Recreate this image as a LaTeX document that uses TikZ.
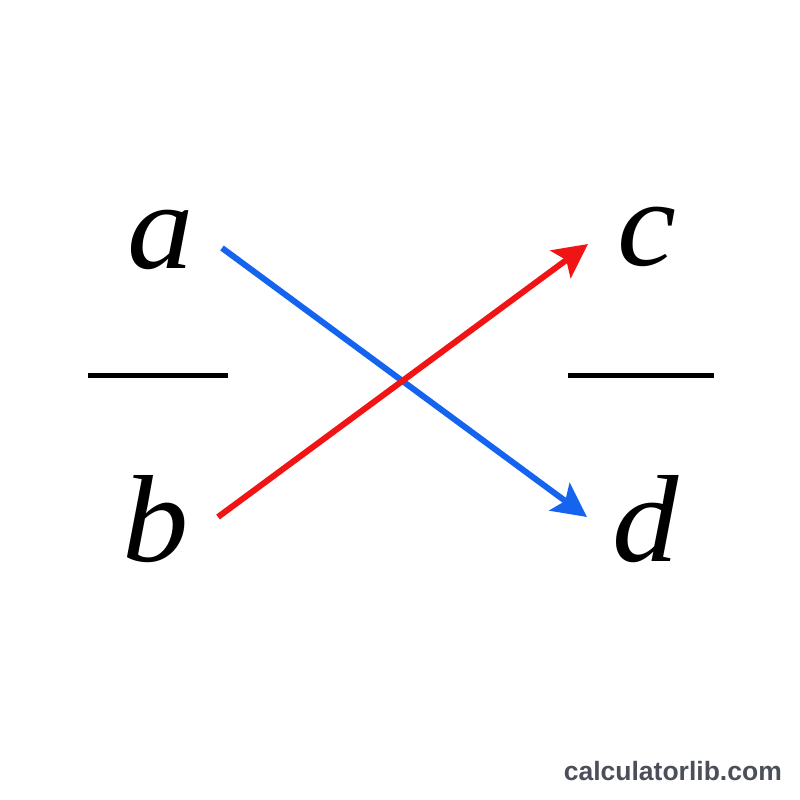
\documentclass[tikz,border=0pt]{standalone}
\usepackage{fontspec}
\setmainfont{Liberation Serif}
\newfontfamily\wmfont{Liberation Sans}
\usetikzlibrary{arrows.meta}
\definecolor{myblue}{RGB}{20,100,240}
\definecolor{myred}{RGB}{240,20,20}
\definecolor{wmgray}{RGB}{74,79,90}
\tikzset{
  letter/.style={anchor=base, inner sep=0pt, xscale=1.07, transform shape, font=\fontsize{124}{126}\selectfont\itshape},
  bar/.style={line width=5pt, black},
  conn/.style={line width=6pt, -{Stealth[length=34pt,width=34pt,inset=7pt]}},
}
\begin{document}
\begin{tikzpicture}[x=1pt,y=-1pt]
\useasboundingbox[fill=white] (0,0) rectangle (800,800);
\node[letter] (a) at (161,268) {a};
\node[letter] (b) at (156,561) {b};
\node[letter] (c) at (647,265) {c};
\node[letter] (d) at (646,561) {d};
\coordinate (lb1) at (88,375);
\coordinate (lb2) at (228,375);
\coordinate (rb1) at (568,375);
\coordinate (rb2) at (714,375);
\draw[bar] (lb1) -- (lb2);
\draw[bar] (rb1) -- (rb2);
\coordinate (as) at (222,248);
\coordinate (de) at (587,517);
\coordinate (bs) at (218,517);
\coordinate (ce) at (588,244);
\draw[conn, myblue] (as) -- (de);
\draw[conn, myred] (bs) -- (ce);
\node[anchor=base east, inner sep=0pt, text=wmgray, font=\wmfont\bfseries\fontsize{26.5}{28}\selectfont] (wm) at (782,780) {calculatorlib.com};
\end{tikzpicture}
\end{document}
